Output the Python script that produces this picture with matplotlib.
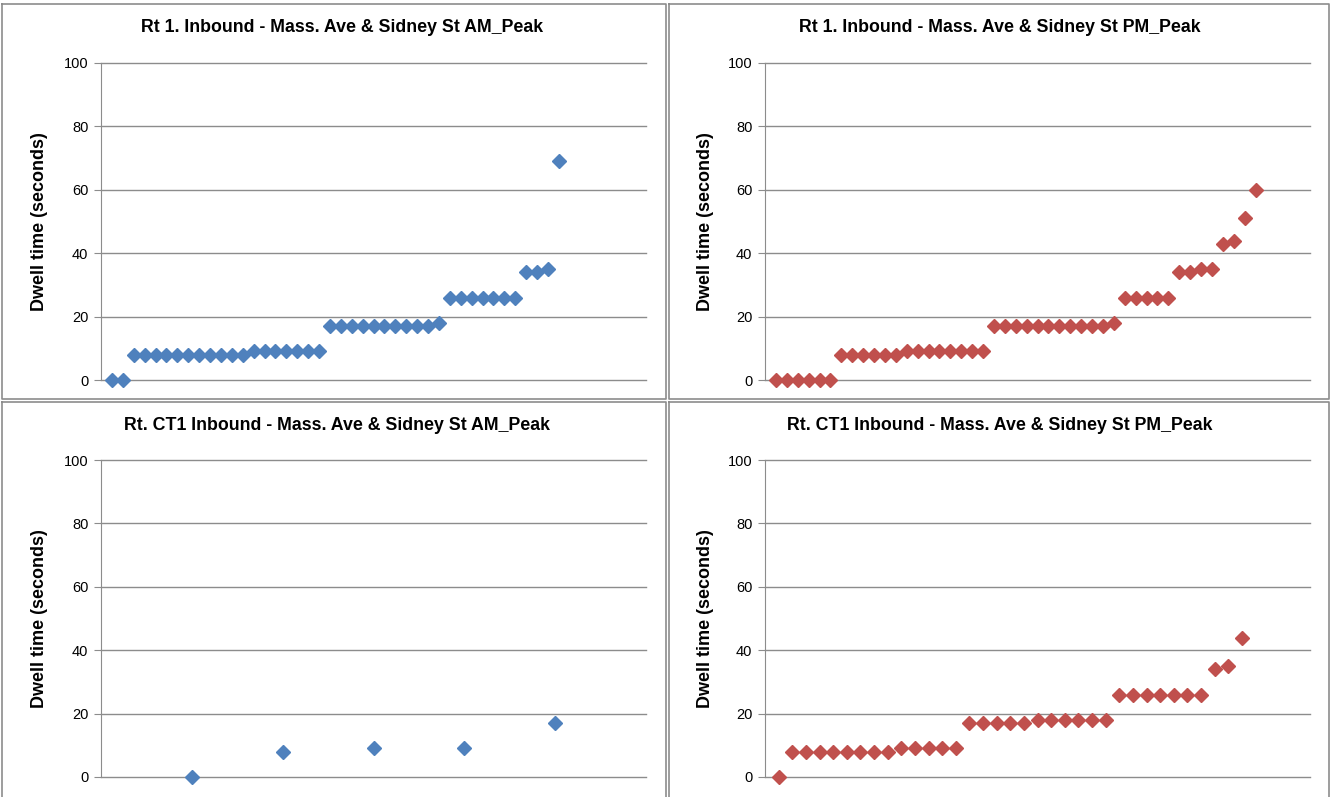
import matplotlib
matplotlib.use("Agg")
import matplotlib.pyplot as plt
from matplotlib.lines import Line2D

plt.rcParams['font.family'] = ['Liberation Sans', 'DejaVu Sans']

# dwell times, sorted, one list per chart
rt1_am = [0, 0] + [8] * 11 + [9] * 7 + [17] * 10 + [18] + [26] * 7 + [34, 34, 35, 69]
rt1_pm = [0] * 6 + [8] * 6 + [9] * 8 + [17] * 11 + [18] + [26] * 5 + [34, 34, 35, 35, 43, 44, 51, 60]
ct1_am = [0, 8, 9, 9, 17]
ct1_pm = [0] + [8] * 8 + [9] * 5 + [17] * 5 + [18] * 6 + [26] * 7 + [34, 35, 44]

titles = ["Rt 1. Inbound - Mass. Ave & Sidney St AM_Peak",
          "Rt 1. Inbound - Mass. Ave & Sidney St PM_Peak",
          "Rt. CT1 Inbound - Mass. Ave & Sidney St AM_Peak",
          "Rt. CT1 Inbound - Mass. Ave & Sidney St PM_Peak"]
series = [rt1_am, rt1_pm, ct1_am, ct1_pm]
xmax = [50, 50, 6, 40]
colors = ["#4F81BD", "#C0504D", "#4F81BD", "#C0504D"]
yticks = [0, 20, 40, 60, 80, 100]

W, H = 1330, 797
fig = plt.figure(figsize=(W / 100, H / 100), dpi=100)
fig.patch.set_facecolor("white")

# pixel boxes (left, top, right, bottom) of each plot area
boxes = [(101, 63, 646, 380), (765, 63, 1310, 380),
         (101, 460, 646, 777), (765, 460, 1310, 777)]
title_pos = [(342, 28), (1000, 28), (337, 426), (1000, 426)]
ylab_x = [40, 705, 40, 705]

grey = "#8C8C8C"


def px(x, y):
    return x / W, 1 - y / H


# chart frames
for (x0, y0, x1, y1) in [(2, 4, 666, 399), (669, 4, 1329, 399),
                         (2, 402, 666, 800), (669, 402, 1329, 800)]:
    xs = [x0, x1, x1, x0, x0]
    ys = [y0, y0, y1, y1, y0]
    fig.add_artist(Line2D([x / W for x in xs], [1 - y / H for y in ys],
                          color=grey, lw=1.2))

for i in range(4):
    l, t, r, b = boxes[i]
    ax = fig.add_axes([l / W, 1 - b / H, (r - l) / W, (b - t) / H])
    vals = series[i]
    xs = list(range(1, len(vals) + 1))
    ax.plot(xs, vals, linestyle="none", marker="D", markersize=6.8,
            color=colors[i], clip_on=False, zorder=3)
    ax.set_xlim(0, xmax[i])
    ax.set_ylim(0, 100)
    ax.set_yticks(yticks)
    ax.set_xticks([])
    ax.grid(axis="y", color=grey, lw=1)
    for gl in ax.get_ygridlines():
        gl.set_clip_on(False)
    ax.set_axisbelow(True)
    for s in ["top", "right", "bottom"]:
        ax.spines[s].set_visible(False)
    ax.spines["left"].set_color(grey)
    ax.tick_params(axis="y", colors=grey, length=5, labelcolor="black",
                   labelsize=10.5, pad=4)
    ax.set_facecolor("none")
    tx, ty = px(*title_pos[i])
    fig.text(tx, ty, titles[i], ha="center", va="center",
             fontsize=12.8, fontweight="bold")
    yx, yy = px(ylab_x[i], (t + b) / 2)
    fig.text(yx, yy, "Dwell time (seconds)", rotation=90, ha="center",
             va="center", fontsize=13, fontweight="bold")

fig.savefig("out.png", dpi=100)
